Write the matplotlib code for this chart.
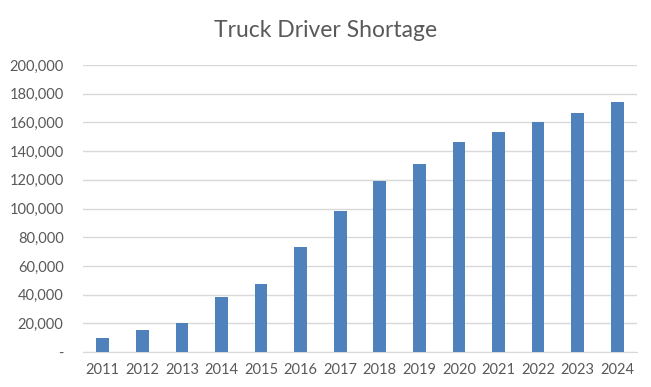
import matplotlib.pyplot as plt
import numpy as np

# data
years = ['2011', '2012', '2013', '2014', '2015', '2016', '2017',
         '2018', '2019', '2020', '2021', '2022', '2023', '2024']
shortage = [10000, 15000, 20000, 38000, 47500, 73000, 98000,
            119000, 131000, 146500, 153000, 160000, 166500, 174500]
yticks = [0, 20000, 40000, 60000, 80000, 100000, 120000,
          140000, 160000, 180000, 200000]

plt.rcParams['font.family'] = ['Lato', 'DejaVu Sans']

fig = plt.figure(figsize=(6.51, 3.87), dpi=100)
ax = fig.add_axes([0.1275, 0.0904, 0.851, 0.7416])

x = np.arange(len(years))
ax.bar(x, shortage, width=0.32, color='#4f81bd', zorder=3)

ax.set_xlim(-0.5, len(years) - 0.5)
ax.set_ylim(0, 200000)
ax.set_xticks(x)
ax.set_xticklabels(years)
ax.set_yticks(yticks)
# excel style: dash for zero
ax.set_yticklabels(['-' if v == 0 else f'{v:,}' for v in yticks])

ax.grid(axis='y', color='#d9d9d9', linewidth=1, zorder=0)
for s in ['top', 'right', 'left']:
    ax.spines[s].set_visible(False)
ax.spines['bottom'].set_color('#d9d9d9')
ax.tick_params(axis='both', length=0, colors='#595959', labelsize=10.5)
ax.tick_params(axis='y', pad=14)
ax.tick_params(axis='x', pad=8)

fig.text(0.5, 0.922, 'Truck Driver Shortage', ha='center', va='center',
         fontsize=16.5, color='#595959')

fig.savefig('out.png', dpi=100)
